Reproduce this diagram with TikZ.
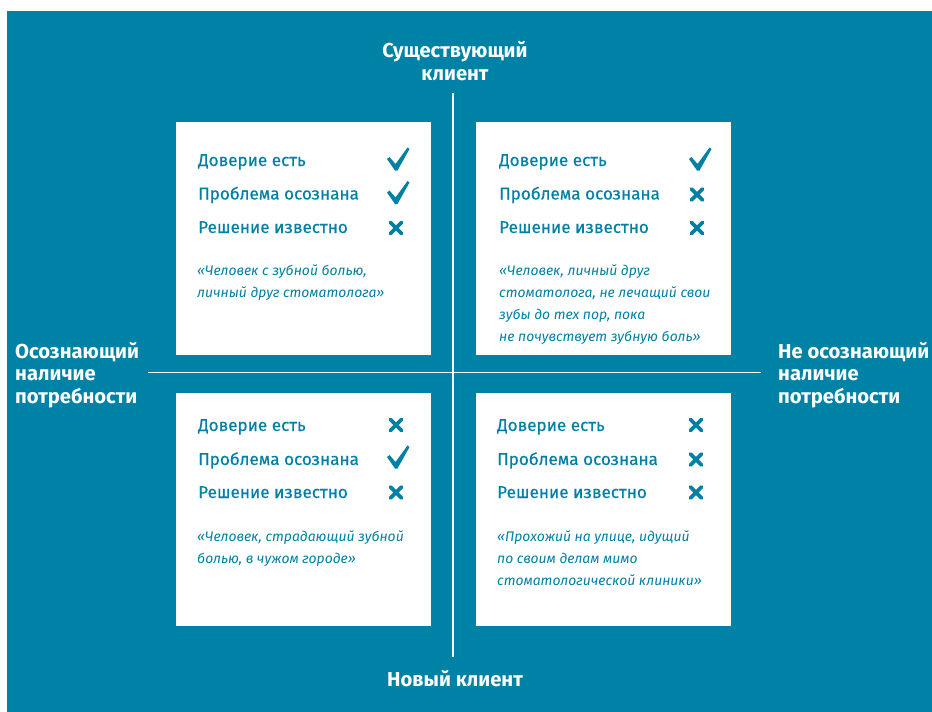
\documentclass[tikz,border=0pt]{standalone}
\usepackage{fontspec}
\setmainfont{Fira Sans}
\newfontfamily\rowfont[FakeBold=0.35]{Fira Sans}
\definecolor{teal0}{RGB}{0,130,167}
\definecolor{tealtxt}{RGB}{0,128,165}
\begin{document}
\begin{tikzpicture}[x=1pt,y=-1pt,
  card/.style={fill=white,draw=none},
  axis/.style={draw=white,line width=1.5pt},
  rowtxt/.style={anchor=base west,inner sep=0pt,text=tealtxt,font=\rowfont\fontsize{17.1}{18}\selectfont},
  quote/.style={anchor=base west,inner sep=0pt,text=tealtxt,font=\fontsize{13.9}{22}\selectfont\itshape,align=left},
  lbl/.style={inner sep=0pt,text=white,font=\fontsize{20.2}{22.5}\selectfont\bfseries},
  chk/.pic={\fill[tealtxt] (-11,-1) -- (-8.5,-3) -- (-2.5,4) -- (9.5,-12.5) -- (11.5,-11) -- (-0.5,10.5) -- (-3,10.5) -- cycle;},
  crs/.pic={\draw[tealtxt,line width=3.6pt,line cap=round] (-5.5,-5.5) -- (5.5,5.5) (5.5,-5.5) -- (-5.5,5.5);}
]
\useasboundingbox (0,0) rectangle (932,712);
\fill[teal0] (7,11) rectangle (932,712);
% axes
\coordinate (vt) at (453,93);
\coordinate (vb) at (453,657);
\coordinate (hl) at (148,372.5);
\coordinate (hr) at (761,372.5);
\draw[axis] (vt) -- (vb);
\draw[axis] (hl) -- (hr);
% cards
\path[card] (176,122) rectangle (431,355);
\path[card] (476,122) rectangle (731,355);
\path[card] (176,393) rectangle (431,626);
\path[card] (476,393) rectangle (731,626);
% axis labels
\node[lbl,align=center,anchor=base] (top) at (455,80) {Существующий\\клиент};
\node[lbl,align=center,anchor=base] (bot) at (455,686) {Новый клиент};
\node[lbl,align=left,anchor=base west] (left) at (15,403) {Осознающий\\наличие\\потребности};
\node[lbl,align=left,anchor=base west] (right) at (778,403) {Не осознающий\\наличие\\потребности};
% TL
\node[rowtxt] (a1) at (198,166) {Доверие есть};
\node[rowtxt] (a2) at (198,199.5) {Проблема осознана};
\node[rowtxt] (a3) at (198,233) {Решение известно};
\pic at (398,160) {chk};
\pic at (398,193.5) {chk};
\pic at (396,228) {crs};
\node[quote] (aq) at (197,297) {«Человек с зубной болью,\\личный друг стоматолога»};
% TR
\node[rowtxt] (b1) at (499,166) {Доверие есть};
\node[rowtxt] (b2) at (499,199.5) {Проблема осознана};
\node[rowtxt] (b3) at (499,233) {Решение известно};
\pic at (700,160) {chk};
\pic at (697,194.5) {crs};
\pic at (697,228) {crs};
\node[quote] (bq) at (499,341) {«Человек, личный друг\\стоматолога, не лечащий свои\\зубы до тех пор, пока\\не почувствует зубную боль»};
% BL
\node[rowtxt] (c1) at (198,431) {Доверие есть};
\node[rowtxt] (c2) at (198,465) {Проблема осознана};
\node[rowtxt] (c3) at (198,498) {Решение известно};
\pic at (396,425) {crs};
\pic at (398,458) {chk};
\pic at (396,492.5) {crs};
\node[quote] (cq) at (197,563) {«Человек, страдающий зубной\\болью, в чужом городе»};
% BR
\node[rowtxt] (d1) at (497,431) {Доверие есть};
\node[rowtxt] (d2) at (497,465) {Проблема осознана};
\node[rowtxt] (d3) at (497,498) {Решение известно};
\pic at (696,425) {crs};
\pic at (696,459.5) {crs};
\pic at (696,492.5) {crs};
\node[quote] (dq) at (497,585) {«Прохожий на улице, идущий\\по своим делам мимо\\стоматологической клиники»};
\end{tikzpicture}
\end{document}
